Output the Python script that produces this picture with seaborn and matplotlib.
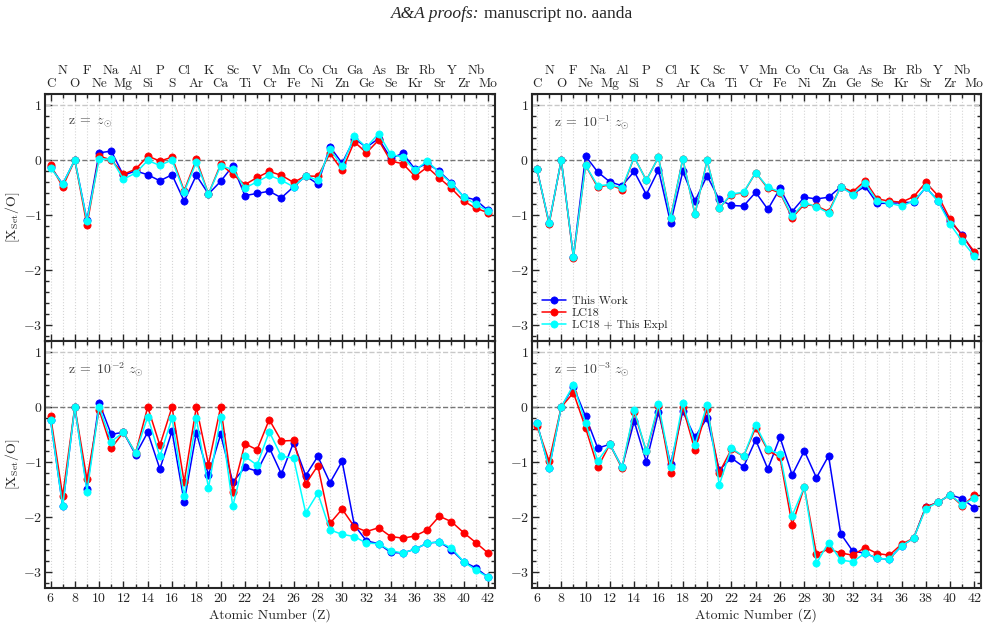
import numpy as np
import pandas as pd
import matplotlib
matplotlib.use("Agg")
import matplotlib.pyplot as plt
import matplotlib.transforms as mtransforms
from matplotlib.ticker import MultipleLocator
import seaborn as sns

# atomic numbers and element symbols
Z = list(range(6, 43))
elements = ["C", "N", "O", "F", "Ne", "Na", "Mg", "Al", "Si", "P", "S", "Cl", "Ar", "K",
            "Ca", "Sc", "Ti", "V", "Cr", "Mn", "Fe", "Co", "Ni", "Cu", "Zn", "Ga", "Ge",
            "As", "Se", "Br", "Kr", "Rb", "Sr", "Y", "Zr", "Nb", "Mo"]

# z = z_sun
work_z0 = [-0.12, -0.44, 0.0, -1.10, 0.13, 0.16, -0.28, -0.20, -0.27, -0.38, -0.27, -0.75,
           -0.28, -0.62, -0.39, -0.11, -0.65, -0.61, -0.57, -0.69, -0.49, -0.29, -0.44,
           0.24, -0.06, 0.39, 0.23, 0.39, 0.03, 0.12, -0.17, -0.06, -0.21, -0.42, -0.67,
           -0.73, -0.92]
lc18_z0 = [-0.09, -0.49, 0.0, -1.19, 0.07, 0.0, -0.26, -0.17, 0.07, -0.02, 0.05, -0.56,
           0.01, -0.62, -0.08, -0.26, -0.45, -0.32, -0.21, -0.28, -0.41, -0.29, -0.30,
           0.12, -0.19, 0.33, 0.13, 0.36, -0.02, -0.07, -0.30, -0.13, -0.33, -0.52, -0.75,
           -0.88, -0.96]
expl_z0 = [-0.14, -0.44, 0.0, -1.11, 0.01, 0.02, -0.35, -0.24, -0.01, -0.10, 0.0, -0.58,
           -0.04, -0.62, -0.11, -0.17, -0.51, -0.40, -0.28, -0.37, -0.49, -0.29, -0.37,
           0.19, -0.11, 0.43, 0.23, 0.48, 0.10, 0.05, -0.19, -0.02, -0.23, -0.43, -0.67,
           -0.81, -0.93]

# z = 1e-1 z_sun
work_z1 = [-0.17, -1.15, 0.0, -1.76, 0.07, -0.22, -0.40, -0.47, -0.21, -0.63, -0.18, -1.15,
           -0.21, -0.75, -0.29, -0.72, -0.83, -0.84, -0.59, -0.90, -0.52, -0.94, -0.68,
           -0.71, -0.68, -0.49, -0.62, -0.48, -0.79, -0.79, -0.78, -0.77, -0.50, -0.74,
           -1.12, -1.36, -1.71]
lc18_z1 = [-0.17, -1.17, 0.0, -1.78, -0.10, -0.50, -0.45, -0.54, 0.05, -0.37, 0.05, -1.05,
           0.02, -0.99, -0.01, -0.88, -0.63, -0.60, -0.23, -0.52, -0.60, -1.05, -0.81,
           -0.84, -0.94, -0.49, -0.58, -0.38, -0.71, -0.75, -0.77, -0.67, -0.41, -0.65,
           -1.08, -1.39, -1.67]
expl_z1 = [-0.17, -1.15, 0.0, -1.76, -0.10, -0.47, -0.45, -0.51, 0.05, -0.37, 0.05, -1.06,
           0.02, -0.99, -0.01, -0.88, -0.62, -0.59, -0.23, -0.50, -0.58, -1.03, -0.78,
           -0.85, -0.97, -0.49, -0.63, -0.42, -0.75, -0.79, -0.84, -0.75, -0.50, -0.75,
           -1.17, -1.48, -1.75]

# z = 1e-2 z_sun
work_z2 = [-0.23, -1.81, 0.0, -1.49, 0.08, -0.50, -0.46, -0.87, -0.46, -1.13, -0.44, -1.73,
           -0.47, -1.24, -0.50, -1.37, -1.10, -1.17, -0.74, -1.22, -0.65, -1.25, -0.90,
           -1.38, -0.99, -2.15, -2.44, -2.49, -2.65, -2.66, -2.59, -2.48, -2.46, -2.60,
           -2.82, -2.93, -3.10]
lc18_z2 = [-0.16, -1.62, 0.0, -1.32, -0.05, -0.75, -0.46, -0.84, 0.0, -0.70, 0.0, -1.37,
           0.0, -1.05, 0.0, -1.54, -0.67, -0.78, -0.23, -0.62, -0.61, -1.40, -1.07,
           -2.12, -1.86, -2.18, -2.27, -2.20, -2.36, -2.39, -2.35, -2.24, -1.99, -2.09,
           -2.29, -2.47, -2.66]
expl_z2 = [-0.23, -1.81, 0.0, -1.54, 0.0, -0.63, -0.46, -0.84, -0.18, -0.90, -0.20, -1.63,
           -0.20, -1.48, -0.18, -1.81, -0.90, -1.06, -0.45, -0.90, -0.93, -1.93, -1.57,
           -2.24, -2.32, -2.36, -2.48, -2.49, -2.62, -2.66, -2.59, -2.48, -2.46, -2.57,
           -2.82, -2.97, -3.10]

# z = 1e-3 z_sun
work_z3 = [-0.29, -1.12, 0.0, 0.37, -0.17, -0.75, -0.68, -1.10, -0.26, -1.00, -0.09, -1.04,
           -0.08, -0.55, -0.20, -1.15, -0.93, -1.09, -0.60, -1.13, -0.55, -1.24, -0.80,
           -1.29, -0.89, -2.31, -2.63, -2.66, -2.76, -2.77, -2.53, -2.39, -1.82, -1.74,
           -1.60, -1.67, -1.84]
lc18_z3 = [-0.34, -0.99, 0.0, 0.26, -0.38, -1.10, -0.68, -1.12, -0.09, -0.81, 0.01, -1.21,
           0.0, -0.79, -0.03, -1.20, -0.77, -0.90, -0.38, -0.79, -0.92, -2.15, -1.46,
           -2.68, -2.59, -2.66, -2.70, -2.56, -2.67, -2.70, -2.50, -2.39, -1.82, -1.74,
           -1.60, -1.80, -1.61]
expl_z3 = [-0.29, -1.12, 0.0, 0.40, -0.29, -0.98, -0.68, -1.10, -0.06, -0.81, 0.05, -1.09,
           0.07, -0.69, 0.04, -1.42, -0.75, -0.90, -0.33, -0.77, -0.86, -1.98, -1.46,
           -2.85, -2.47, -2.79, -2.82, -2.66, -2.76, -2.77, -2.53, -2.39, -1.85, -1.74,
           -1.60, -1.78, -1.66]

panel_labels = [r"$\mathrm{z}\;=\;z_{\odot}$", r"$\mathrm{z}\;=\;10^{-1}\ z_{\odot}$",
                r"$\mathrm{z}\;=\;10^{-2}\ z_{\odot}$", r"$\mathrm{z}\;=\;10^{-3}\ z_{\odot}$"]
series_names = ["This Work", "LC18", "LC18 + This Expl"]
series_colors = ["blue", "red", "cyan"]
panels = [(work_z0, lc18_z0, expl_z0), (work_z1, lc18_z1, expl_z1),
          (work_z2, lc18_z2, expl_z2), (work_z3, lc18_z3, expl_z3)]

sns.set_style("ticks")
plt.rcParams["font.family"] = ["cmr10", "DejaVu Serif"]
plt.rcParams["mathtext.fontset"] = "cm"
plt.rcParams["axes.formatter.use_mathtext"] = True
plt.rcParams["axes.unicode_minus"] = True

fig, axes = plt.subplots(2, 2, figsize=(9.9, 6.27), dpi=100)
fig.subplots_adjust(left=0.0455, right=0.991, top=0.85, bottom=0.062, hspace=0, wspace=0.082)

for k, ax in enumerate(axes.flat):
    rows = []
    for name, vals in zip(series_names, panels[k]):
        rows.append(pd.DataFrame({"Z": Z, "val": vals, "series": name}))
    df = pd.concat(rows, ignore_index=True)

    ax.axhline(0, color="#777777", ls="--", lw=1.0, zorder=1)
    ax.axhline(1, color="#c8c8c8", ls="--", lw=1.0, zorder=1)
    for z in Z:
        ax.axvline(z, color="#d5d5d5", ls=":", lw=0.8, zorder=0)

    for name, c in zip(series_names, series_colors):
        sub = df[df["series"] == name]
        sns.lineplot(data=sub, x="Z", y="val", color=c, marker="o", markersize=5.2,
                     markeredgecolor=c, markeredgewidth=0.5, lw=1.1, label=name,
                     ax=ax, sort=False, zorder=3)

    ax.set_xlim(5.55, 42.55)
    ax.set_ylim(-3.3, 1.2)
    ax.xaxis.set_major_locator(MultipleLocator(2))
    ax.xaxis.set_minor_locator(MultipleLocator(1))
    ax.yaxis.set_major_locator(MultipleLocator(1))
    ax.yaxis.set_minor_locator(MultipleLocator(0.2))
    ax.tick_params(which="both", direction="in", top=True, right=True, labelsize=10,
                   width=1.0, pad=3)
    ax.tick_params(axis="y", pad=2)
    ax.tick_params(which="major", length=5)
    ax.tick_params(which="minor", length=3)
    for sp in ax.spines.values():
        sp.set_linewidth(1.5)

    ax.text(0.05, 0.885, panel_labels[k], transform=ax.transAxes, ha="left", va="center",
            fontsize=10, color="#444444")

    ax.set_xlabel("")
    ax.set_ylabel("")
    if k < 2:
        ax.tick_params(labelbottom=False)
        trans = mtransforms.blended_transform_factory(ax.transData, ax.transAxes)
        for z, sym in zip(Z, elements):
            yy = 1.095 if z % 2 == 1 else 1.04
            ax.text(z, yy, sym, transform=trans, ha="center", va="center", fontsize=9.5)
    else:
        ax.set_xlabel("Atomic Number (Z)", fontsize=10, labelpad=2)
    if k % 2 == 0:
        ax.set_ylabel(r"$[\mathrm{X_{Set}/O}]$", fontsize=10)
        ax.yaxis.set_label_coords(-0.052, 0.5)

    if k == 1:
        ax.legend(loc="lower left", bbox_to_anchor=(0.0, 0.0), frameon=False, fontsize=8.5,
                  labelspacing=0.15, handlelength=2.0, handletextpad=0.5, borderaxespad=0.5)
    else:
        ax.get_legend().remove()

fig.text(0.4848, 0.978, "A&A proofs:", ha="right", va="center", fontsize=12.5,
         family="Liberation Serif", style="italic")
fig.text(0.4889, 0.978, "manuscript no. aanda", ha="left", va="center", fontsize=12.5,
         family="Liberation Serif")

fig.savefig("out.png", dpi=100)
